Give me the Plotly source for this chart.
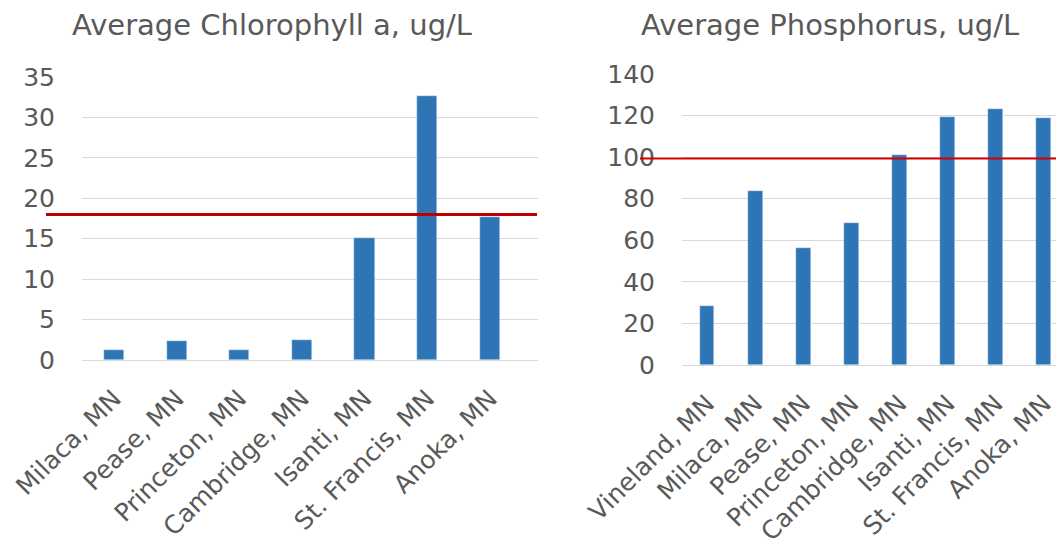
import plotly.graph_objects as go

chl_sites = ["Milaca, MN", "Pease, MN", "Princeton, MN", "Cambridge, MN",
             "Isanti, MN", "St. Francis, MN", "Anoka, MN"]
chl_values = [1.2, 2.3, 1.2, 2.45, 15.1, 32.6, 17.7]
chl_standard = 18.0

p_sites = ["Vineland, MN", "Milaca, MN", "Pease, MN", "Princeton, MN",
           "Cambridge, MN", "Isanti, MN", "St. Francis, MN", "Anoka, MN"]
p_values = [28.4, 83.8, 56.4, 68.5, 101.2, 119.1, 123.1, 118.6]
p_standard = 99.4

chl_ticks = [0, 5, 10, 15, 20, 25, 30, 35]
p_ticks = [0, 20, 40, 60, 80, 100, 120, 140]

BAR = "#2E75B6"
TXT = "#595959"
GRID = "#D9D9D9"
FONT = "DejaVu Sans"

# page is offset by the 8px body margin
W, H = 1056, 540
OFF = 8


def px(x):
    return (x - OFF) / W


def py(y):
    return 1 - (y - OFF) / H


fig = go.Figure()
fig.add_trace(go.Bar(x=list(range(len(chl_sites))), y=chl_values, marker_color=BAR,
                     width=0.32, xaxis="x", yaxis="y", showlegend=False))
fig.add_trace(go.Bar(x=list(range(len(p_sites))), y=p_values, marker_color=BAR,
                     width=0.31, xaxis="x2", yaxis="y2", showlegend=False))

common_y = dict(showgrid=True, gridcolor=GRID, gridwidth=1, zeroline=False,
                showline=False, ticks="", tickfont=dict(family=FONT, size=25, color=TXT),
                ticklabelstandoff=26, automargin=False)
common_x = dict(showgrid=False, zeroline=False, showline=True, linecolor=GRID, linewidth=1,
                ticks="", tickangle=-45, tickfont=dict(family=FONT, size=25, color=TXT),
                ticklabelstandoff=13, automargin=False, tickmode="array")

fig.update_layout(
    width=W, height=H,
    margin=dict(l=0, r=0, t=0, b=0),
    paper_bgcolor="white", plot_bgcolor="white",
    xaxis=dict(domain=[px(82), px(538)], range=[-0.51, 6.77],
               tickvals=list(range(len(chl_sites))), ticktext=chl_sites, anchor="y", **common_x),
    yaxis=dict(domain=[py(360), py(77)], range=[0, 35], tickvals=chl_ticks,
               anchor="x", **common_y),
    xaxis2=dict(domain=[px(682), 1.0], range=[-0.52, 7.42],
                tickvals=list(range(len(p_sites))), ticktext=p_sites, anchor="y2", **common_x),
    yaxis2=dict(domain=[py(365), py(74)], range=[0, 140], tickvals=p_ticks,
                anchor="x2", **common_y),
    bargap=0,
)

fig.add_shape(type="line", xref="paper", yref="y", x0=px(46), x1=px(537),
              y0=chl_standard, y1=chl_standard, line=dict(color="#C00000", width=3))
fig.add_shape(type="line", xref="paper", yref="y2", x0=px(640), x1=1.0,
              y0=p_standard, y1=p_standard, line=dict(color="#D40000", width=2))

fig.add_annotation(text="Average Chlorophyll a, ug/L", xref="paper", yref="paper",
                   x=px(272), y=py(25), xanchor="center", yanchor="middle",
                   showarrow=False, font=dict(family=FONT, size=29, color=TXT))
fig.add_annotation(text="Average Phosphorus, ug/L", xref="paper", yref="paper",
                   x=px(830), y=py(25), xanchor="center", yanchor="middle",
                   showarrow=False, font=dict(family=FONT, size=29, color=TXT))

fig.write_html("out.html")
